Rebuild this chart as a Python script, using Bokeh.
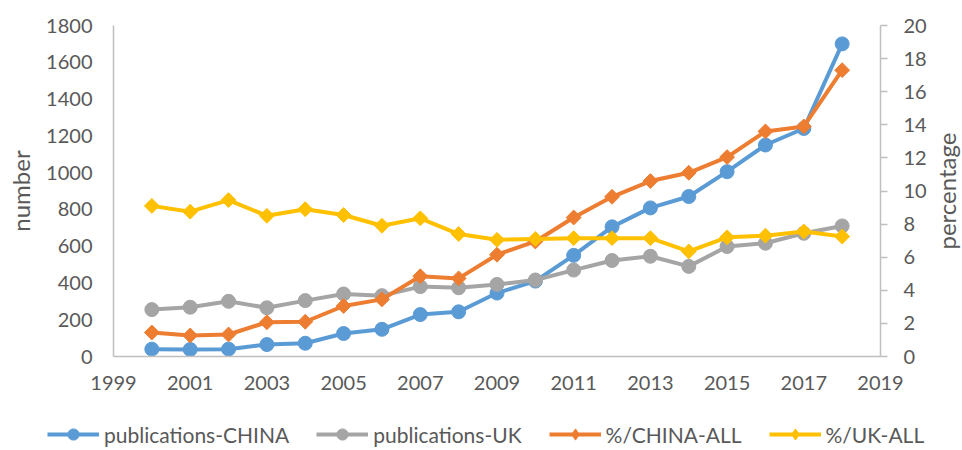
import math
from bokeh.plotting import figure
from bokeh.layouts import column, row
from bokeh.models import Range1d, LinearAxis, FixedTicker, Legend, LegendItem
from bokeh.embed import file_html
from bokeh.resources import INLINE

years = list(range(2000, 2019))
china_pub = [40, 38, 40, 65, 72, 125, 148, 228, 243, 345, 410, 550, 705, 808, 870, 1005, 1150, 1240, 1700]
uk_pub = [255, 268, 300, 265, 304, 340, 331, 380, 374, 392, 416, 470, 522, 545, 490, 598, 616, 670, 710]
china_pct = [1.45, 1.27, 1.33, 2.07, 2.1, 3.05, 3.45, 4.85, 4.72, 6.15, 6.95, 8.4, 9.65, 10.6, 11.1, 12.05, 13.6, 13.9, 17.3]
uk_pct = [9.1, 8.75, 9.45, 8.5, 8.9, 8.55, 7.9, 8.35, 7.4, 7.05, 7.1, 7.15, 7.15, 7.15, 6.35, 7.2, 7.3, 7.55, 7.25]

x_ticks = [1999, 2001, 2003, 2005, 2007, 2009, 2011, 2013, 2015, 2017, 2019]
left_ticks = [0, 200, 400, 600, 800, 1000, 1200, 1400, 1600, 1800]
right_ticks = [0, 2, 4, 6, 8, 10, 12, 14, 16, 18, 20]
series_names = ["publications-CHINA", "publications-UK", "%/CHINA-ALL", "%/UK-ALL"]
left_title = "number"
right_title = "percentage"

FONT = "Lato"
TXT = "#595959"
AX = "#BFBFBF"
BLUE, GRAY, ORANGE, YELLOW = "#5B9BD5", "#A5A5A5", "#ED7D31", "#FFC000"

TOTAL_W = 960
W_SIDE = 31
W_MAIN = TOTAL_W - W_SIDE
H_MAIN = 412
H_LEG = 36
FR_TOP, FR_BOTTOM, FR_LEFT = 25, 356, 113

def clean(fig):
    fig.outline_line_color = None
    fig.grid.visible = False
    fig.background_fill_color = "white"
    fig.border_fill_color = "white"

def style_axis(ax):
    ax.axis_line_color = AX
    ax.axis_line_width = 1.5
    ax.major_label_text_font = FONT
    ax.major_label_text_font_size = "20px"
    ax.major_label_text_color = TXT
    ax.axis_label_text_font = FONT
    ax.axis_label_text_font_size = "24px"
    ax.axis_label_text_color = TXT
    ax.axis_label_text_font_style = "normal"
    ax.minor_tick_line_color = None

# ---- main chart
p = figure(width=W_MAIN, height=H_MAIN, output_backend="svg", toolbar_location=None,
           x_range=Range1d(1999, 2019), y_range=Range1d(0, 1800),
           min_border_left=FR_LEFT, min_border_right=40, min_border_top=FR_TOP,
           min_border_bottom=H_MAIN - FR_BOTTOM)
p.extra_y_ranges = {"pct": Range1d(0, 20)}
clean(p)

xa = p.xaxis[0]
style_axis(xa)
xa.ticker = FixedTicker(ticks=x_ticks)
xa.major_tick_line_color = None
xa.major_tick_out = 0
xa.major_label_standoff = 19

ya = p.yaxis[0]
style_axis(ya)
ya.ticker = FixedTicker(ticks=left_ticks)
ya.major_tick_line_color = None
ya.major_tick_out = 0
ya.major_label_standoff = 21
ya.axis_label = left_title
ya.axis_label_standoff = 8

ra = LinearAxis(y_range_name="pct")
style_axis(ra)
ra.ticker = FixedTicker(ticks=right_ticks)
ra.major_tick_line_color = AX
ra.major_tick_line_width = 1.5
ra.major_tick_in = 0
ra.major_tick_out = 7
ra.major_label_standoff = 16
p.add_layout(ra, "right")

def draw(fig, rng):
    r = []
    r.append(fig.line(years, china_pub, line_color=BLUE, line_width=4))
    r.append(fig.scatter(years, china_pub, marker="circle", size=14, fill_color=BLUE, line_color=BLUE))
    r.append(fig.line(years, uk_pub, line_color=GRAY, line_width=4))
    r.append(fig.scatter(years, uk_pub, marker="circle", size=14, fill_color=GRAY, line_color=GRAY))
    r.append(fig.line(years, china_pct, line_color=ORANGE, line_width=4, y_range_name=rng))
    r.append(fig.scatter(years, china_pct, marker="square", size=10.5, angle=math.pi / 4,
                         fill_color=ORANGE, line_color=ORANGE, y_range_name=rng))
    r.append(fig.line(years, uk_pct, line_color=YELLOW, line_width=4, y_range_name=rng))
    r.append(fig.scatter(years, uk_pct, marker="square", size=10.5, angle=math.pi / 4,
                         fill_color=YELLOW, line_color=YELLOW, y_range_name=rng))
    return r

draw(p, "pct")

# ---- narrow strip carrying the right-hand axis title (reads bottom to top)
s = figure(width=W_SIDE, height=H_MAIN, output_backend="svg", toolbar_location=None,
           x_range=Range1d(0, 1), y_range=Range1d(0, 1), x_axis_location=None,
           min_border_left=W_SIDE - 1, min_border_right=0, min_border_top=FR_TOP,
           min_border_bottom=H_MAIN - FR_BOTTOM)
clean(s)
sa = s.yaxis[0]
style_axis(sa)
sa.ticker = FixedTicker(ticks=[])
sa.axis_line_color = None
sa.major_tick_line_color = None
sa.major_tick_out = 0
sa.major_label_standoff = 0
sa.axis_label = right_title
sa.axis_label_standoff = 0

# ---- legend strip (its renderers lie outside its own ranges, only the legend shows)
q = figure(width=TOTAL_W, height=H_LEG, output_backend="svg", toolbar_location=None,
           x_range=Range1d(0, 1), y_range=Range1d(0, 1),
           x_axis_location=None, y_axis_location=None, min_border=0)
q.extra_y_ranges = {"pct": Range1d(100, 101)}
clean(q)
rs = draw(q, "pct")
for r in (rs[5], rs[7]):
    r.glyph.marker = "diamond"
    r.glyph.angle = 0
    r.glyph.size = 16

items = [LegendItem(label=series_names[i], renderers=[rs[2 * i], rs[2 * i + 1]]) for i in range(4)]
legend = Legend(items=items, orientation="horizontal", location=(47, 0),
                glyph_width=52, glyph_height=28, label_height=20, label_standoff=5,
                spacing=27, padding=0, margin=0, border_line_color=None,
                background_fill_alpha=0,
                label_text_font=FONT, label_text_font_size="21px", label_text_color=TXT)
q.add_layout(legend, "center")

layout = column(row(p, s, spacing=0), q, spacing=0)
open("out.html", "w").write(file_html(layout, INLINE))
